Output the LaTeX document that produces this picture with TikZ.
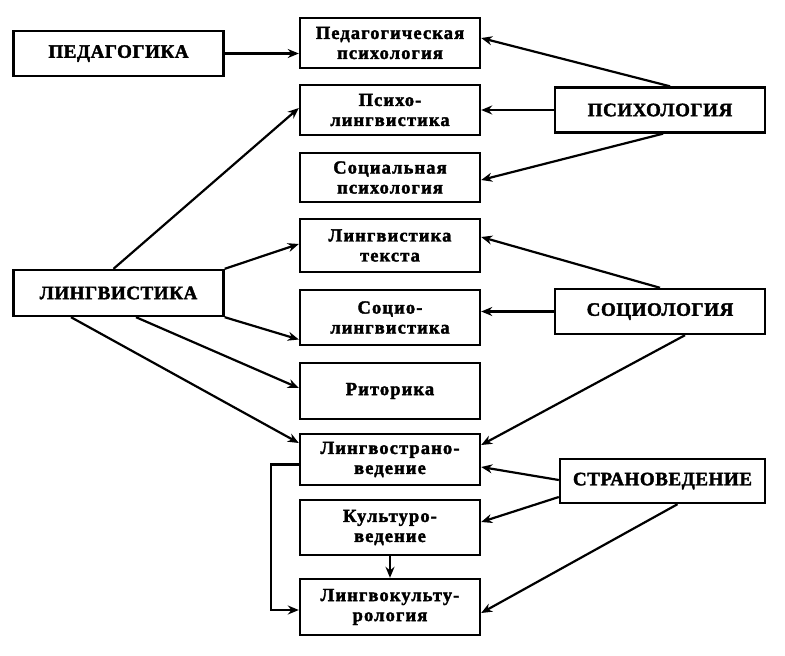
\documentclass[tikz,border=0pt]{standalone}
\usepackage{fontspec}
\setmainfont{Liberation Serif}
\newfontfamily\bigfont{Liberation Serif}[LetterSpace=3, BoldFeatures={FakeBold=2}]
\newfontfamily\boxfont{Liberation Serif}[LetterSpace=6, BoldFeatures={FakeBold=2}]
\usetikzlibrary{arrows.meta}

\begin{document}
\begin{tikzpicture}[x=1pt, y=-1pt,
        box/.style={draw, line width=2.4pt, inner sep=0pt, align=center},
        big/.style={box, minimum width=210pt, minimum height=45pt, font=\bigfont\bfseries\fontsize{19}{21}\selectfont},
        mid/.style={box, minimum width=180pt, font=\boxfont\bfseries\fontsize{18.5}{20}\selectfont},
        arr/.style={line width=2.2pt, -{Stealth[length=11pt, width=9pt]}}]
            \useasboundingbox (0,0) rectangle (785,656);
            % left
            \node[big] (ped) at (118.5,53.5) {ПЕДАГОГИКА};
            \node[big, minimum height=46pt] (ling) at (118.5,293) {ЛИНГВИСТИКА};
            % right
            \node[big] (psy) at (660,110) {ПСИХОЛОГИЯ};
            \node[big] (soc) at (660,311.5) {СОЦИОЛОГИЯ};
            \node[big, minimum width=205pt, minimum height=44pt] (stran) at (662.5,481) {СТРАНОВЕДЕНИЕ};
            % middle column
            \foreach \nm/\y/\h/\txt in {pedpsy/43/50pt/{Педагогическая\\психология},
                    psyling/110/50pt/{Психо-\\лингвистика},
                    socpsy/177.5/49pt/{Социальная\\психология},
                    lingtext/245.5/53pt/{Лингвистика\\текста},
                    socling/317.5/55pt/{Социо-\\лингвистика},
                    rhet/391/56pt/{Риторика},
                    lingstr/459.5/51pt/{Лингвострано-\\ведение},
                    cult/527.5/55pt/{Культуро-\\ведение},
                    lingcult/607/56pt/{Лингвокульту-\\рология}} {
                \node[mid, minimum height=\h] (\nm) at (390,\y) {\txt};
            }
            % arrows
            \draw[arr] (ped.east) -- (ped.east -| pedpsy.west);
            \draw[arr] ([xshift=10pt]psy.north) -- ([yshift=5pt]pedpsy.east);
            \draw[arr] (psy.west) -- (psyling.east);
            \draw[arr] ([xshift=3pt]psy.south) -- ([yshift=-2.5pt]socpsy.east);
            \draw[arr] (soc.north) -- ([yshift=8.5pt]lingtext.east);
            \draw[arr] (soc.west) -- (soc.west -| socling.east);
            \draw[arr] ([xshift=25pt]soc.south) -- ([yshift=14.5pt]lingstr.east);
            \draw[arr] ([yshift=1pt]stran.west) -- ([yshift=-7.5pt]lingstr.east);
            \draw[arr] ([yshift=-16pt]stran.west) -- ([yshift=5.5pt]cult.east);
            \draw[arr] ([xshift=15pt]stran.south) -- ([yshift=-6pt]lingcult.east);
            \draw[arr] ([xshift=-5pt]ling.north) -- ([yshift=2pt]psyling.west);
            \draw[arr] (ling.north east) -- ([yshift=1.5pt]lingtext.west);
            \draw[arr] (ling.south east) -- ([yshift=-22pt]socling.west);
            \draw[arr] ([xshift=17.5pt]ling.south) -- ([yshift=3pt]rhet.west);
            \draw[arr] ([xshift=-47.5pt]ling.south) -- ([yshift=16.5pt]lingstr.west);
            \draw[arr] ([yshift=-5pt]lingstr.west) -- ++(-28,0) |- ([yshift=-3pt]lingcult.west);
            \draw[arr] (cult.south) -- (lingcult.north);
        \end{tikzpicture}
\end{document}
